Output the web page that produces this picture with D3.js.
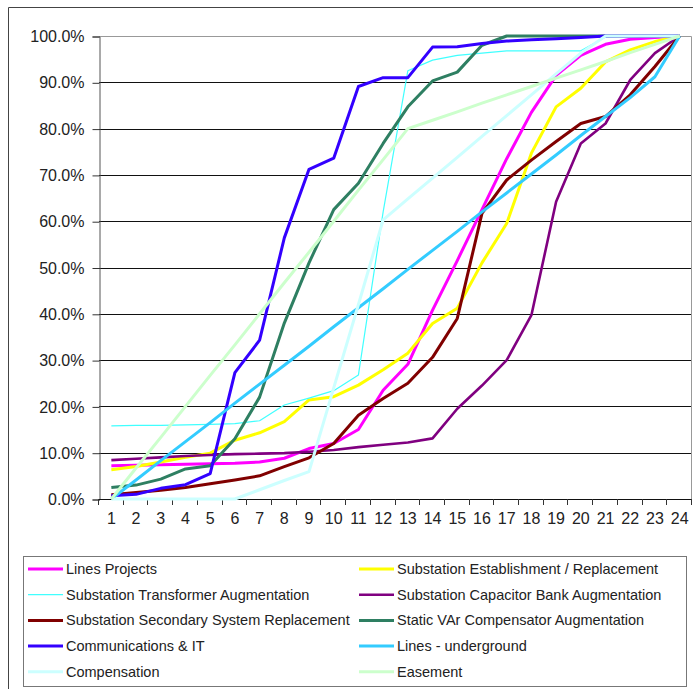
<!DOCTYPE html>
<html>
<head>
<meta charset="utf-8">
<script src="https://cdn.jsdelivr.net/npm/d3@7"></script>
<style>
  html, body { margin: 0; padding: 0; background: #fff; }
  svg { display: block; font-family: "Liberation Sans", Arial, sans-serif; }
</style>
</head>
<body>
<svg id="chart" width="693" height="689"></svg>
<script>
// Cumulative share (%) by period, one array per project category
const categories = d3.range(1, 25);
const yTicks = [0, 10, 20, 30, 40, 50, 60, 70, 80, 90, 100];

const linesProjects   = [7.2, 7.3, 7.4, 7.5, 7.6, 7.7, 8.0, 8.8, 10.9, 12.0, 15.0, 23.5, 29.1, 40.8, 51.5, 62.5, 73.5, 83.5, 91.5, 95.8, 98.2, 99.3, 99.7, 100];
const establishment   = [6.3, 7.0, 8.0, 9.0, 9.9, 12.7, 14.3, 16.7, 21.4, 22.1, 24.6, 27.9, 31.5, 37.9, 41.2, 51.0, 59.5, 74.7, 84.7, 88.7, 94.4, 97.0, 98.8, 100];
const transformer     = [15.8, 15.9, 15.9, 16.0, 16.1, 16.3, 16.9, 20.3, 21.8, 23.4, 26.8, 62.0, 92.5, 94.8, 95.8, 96.3, 96.8, 96.8, 96.8, 96.8, 99.8, 100, 100, 100];
const capacitorBank   = [8.4, 8.7, 9.0, 9.3, 9.5, 9.7, 9.8, 9.9, 10.2, 10.6, 11.2, 11.7, 12.2, 13.1, 19.5, 24.5, 30.0, 39.7, 64.2, 76.8, 81.1, 90.5, 96.3, 100];
const secondarySystem = [0.9, 1.4, 1.9, 2.5, 3.3, 4.1, 5.0, 7.0, 8.9, 12.0, 18.1, 21.7, 25.0, 30.6, 39.0, 61.7, 68.9, 73.2, 77.2, 81.1, 82.6, 87.3, 93.4, 100];
const staticVar       = [2.5, 3.0, 4.3, 6.5, 7.2, 13.0, 22.0, 38.0, 51.0, 62.5, 68.2, 76.8, 84.7, 90.3, 92.2, 98.0, 100, 100, 100, 100, 100, 100, 100, 100];
const commsIT         = [0.7, 1.0, 2.3, 3.1, 5.5, 27.3, 34.3, 56.4, 71.2, 73.6, 89.1, 91.0, 91.0, 97.6, 97.7, 98.4, 98.9, 99.2, 99.4, 99.7, 100, 100, 100, 100];
const underground     = [0, 4.1, 8.3, 12.4, 16.5, 20.7, 24.8, 28.9, 33.0, 37.2, 41.3, 45.4, 49.6, 53.7, 57.8, 62.0, 66.1, 70.2, 74.3, 78.5, 82.6, 86.7, 91.2, 100];
const compensation    = [0, 0, 0, 0, 0, 0, 2.0, 4.0, 5.9, 24.0, 42.0, 60.3, 64.8, 69.3, 73.8, 78.3, 82.8, 87.3, 91.8, 96.3, 100, 100, 100, 100];
const easement        = [0, 6.7, 13.3, 20.0, 26.7, 33.3, 40.0, 46.7, 53.3, 60.0, 66.7, 73.3, 80.0, 81.8, 83.6, 85.5, 87.3, 89.1, 90.9, 92.7, 94.5, 96.4, 98.2, 100];

const series = [
  { name: "Lines Projects", values: linesProjects, color: "#ff00ff", width: 3 },
  { name: "Substation Establishment / Replacement", values: establishment, color: "#ffff00", width: 3 },
  { name: "Substation Transformer Augmentation", values: transformer, color: "#40ffff", width: 1.2 },
  { name: "Substation Capacitor Bank Augmentation", values: capacitorBank, color: "#800080", width: 2.6 },
  { name: "Substation Secondary System Replacement", values: secondarySystem, color: "#800000", width: 3 },
  { name: "Static VAr Compensator Augmentation", values: staticVar, color: "#2e7f62", width: 3 },
  { name: "Communications & IT", values: commsIT, color: "#3300ff", width: 3 },
  { name: "Lines - underground", values: underground, color: "#33ccff", width: 3 },
  { name: "Compensation", values: compensation, color: "#ccffff", width: 3 },
  { name: "Easement", values: easement, color: "#ccffcc", width: 3 }
];

const svg = d3.select("#chart");
const plot = { left: 99, right: 692, top: 36, bottom: 499 };

const x = d3.scaleBand().domain(categories).range([plot.left, plot.right]);
const xc = c => x(c) + x.bandwidth() / 2;
const y = d3.scaleLinear().domain([0, 100]).range([plot.bottom, plot.top]);

// Outer chart frame
svg.append("path")
  .attr("d", `M8.5,${689} V7.5 H${693}`)
  .attr("fill", "none").attr("stroke", "#444").attr("stroke-width", 1);

// Horizontal gridlines
svg.append("g").selectAll("line")
  .data(yTicks.filter(t => t > 0 && t < 100))
  .join("line")
  .attr("x1", plot.left).attr("x2", plot.right)
  .attr("y1", d => Math.round(y(d)) + 0.5).attr("y2", d => Math.round(y(d)) + 0.5)
  .attr("stroke", "#111").attr("stroke-width", 1);

// Plot area border (top and right)
svg.append("path")
  .attr("d", `M${plot.left},${Math.round(y(100)) + 0.5} H${plot.right - 0.5} V${plot.bottom}`)
  .attr("fill", "none").attr("stroke", "#999").attr("stroke-width", 1);

// Y axis
const yAxis = d3.axisLeft(y).tickValues(yTicks).tickSize(7).tickPadding(8)
  .tickFormat(d => d3.format(".1f")(d) + "%");
const gy = svg.append("g").attr("transform", `translate(${plot.left + 0.5},0.5)`).call(yAxis);
gy.select(".domain").attr("stroke", "#555");
gy.selectAll(".tick line").attr("stroke", "#333");
gy.selectAll(".tick text").attr("font-size", 16).attr("fill", "#222")
  .attr("font-family", "'Liberation Sans', Arial, sans-serif");

// X axis: labels at category centres, ticks on category boundaries
const xAxis = d3.axisBottom(x).tickSize(0).tickPadding(13);
const gx = svg.append("g").attr("transform", `translate(0,${plot.bottom + 0.5})`).call(xAxis);
gx.select(".domain").remove();
gx.selectAll(".tick text").attr("font-size", 16).attr("fill", "#222")
  .attr("font-family", "'Liberation Sans', Arial, sans-serif");
svg.append("line")
  .attr("x1", plot.left).attr("x2", plot.right)
  .attr("y1", plot.bottom + 0.5).attr("y2", plot.bottom + 0.5)
  .attr("stroke", "#111");
svg.append("g").selectAll("line")
  .data(categories.map(c => x(c)).concat([plot.right]))
  .join("line")
  .attr("x1", d => Math.round(d) - 0.5).attr("x2", d => Math.round(d) - 0.5)
  .attr("y1", plot.bottom).attr("y2", plot.bottom + 6)
  .attr("stroke", "#333");

// Series lines
const line = d3.line()
  .x((d, i) => xc(categories[i]))
  .y(d => y(d));

svg.append("g").selectAll("path")
  .data(series)
  .join("path")
  .attr("d", s => line(s.values))
  .attr("fill", "none")
  .attr("stroke", s => s.color)
  .attr("stroke-width", s => s.width)
  .attr("stroke-linejoin", "round");

// Legend
const legend = svg.append("g");
legend.append("rect")
  .attr("x", 23.5).attr("y", 556.5).attr("width", 663).attr("height", 130)
  .attr("fill", "#fff").attr("stroke", "#777");

const colX = [28, 359];
const rowY = d3.range(5).map(i => 569 + i * 25.7);
const items = legend.selectAll("g.item")
  .data(series)
  .join("g")
  .attr("class", "item")
  .attr("transform", (s, i) => `translate(${colX[i % 2]},${rowY[Math.floor(i / 2)]})`);
items.append("line")
  .attr("x1", 0).attr("x2", 35).attr("y1", 0).attr("y2", 0)
  .attr("stroke", s => s.color)
  .attr("stroke-width", s => s.width);
items.append("text")
  .attr("x", 38).attr("y", 0).attr("dy", "0.35em")
  .attr("font-size", 14.5).attr("fill", "#222")
  .text(s => s.name);
</script>
</body>
</html>
